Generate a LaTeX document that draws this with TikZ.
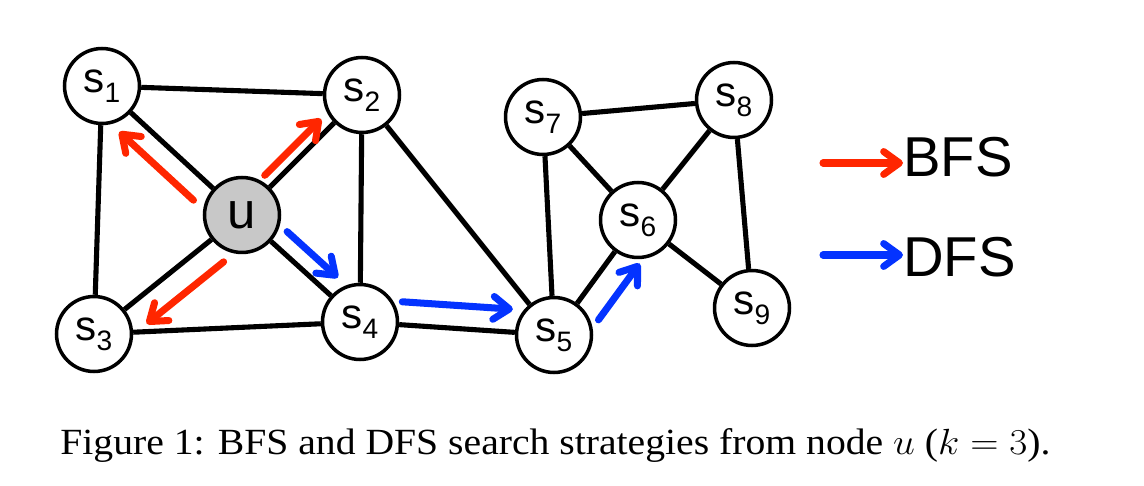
\documentclass[tikz,border=0pt]{standalone}
\usepackage{fontspec}
\setmainfont{Liberation Serif}
\newfontfamily\arialfont{Liberation Sans}
\usetikzlibrary{arrows.meta,calc}
\definecolor{bfsred}{RGB}{255,38,0}
\definecolor{dfsblue}{RGB}{4,51,255}
\definecolor{ugray}{RGB}{200,200,200}
\newcommand{\sidx}[1]{s\raisebox{-0.2cm}{\fontsize{16}{16}\selectfont#1}}
\begin{document}
\begin{tikzpicture}[x=0.02cm,y=-0.02cm,
  vertex/.style={circle,draw,line width=2pt,minimum size=1.5cm,inner sep=0pt,fill=white,font=\arialfont\fontsize{24}{24}\selectfont},
  edge/.style={line width=2.9pt},
  search/.style={line width=4pt,line cap=round,-{Straight Barb[length=9pt,width=13pt,line cap=round,line join=round]}},
  bfs/.style={search,bfsred},
  dfs/.style={search,dfsblue},
  legend/.style={inner sep=0pt,font=\arialfont\fontsize{32}{32}\selectfont}]
\useasboundingbox (0,0) rectangle (1144,486);
\node[vertex] (s1) at (102,86) {\sidx{1}};
\node[vertex] (s2) at (362,95) {\sidx{2}};
\node[vertex,fill=ugray,font=\arialfont\fontsize{29}{29}\selectfont] (u) at (242,215) {u};
\node[vertex] (s3) at (94,334) {\sidx{3}};
\node[vertex] (s4) at (360,322) {\sidx{4}};
\node[vertex] (s5) at (554,335) {\sidx{5}};
\node[vertex] (s6) at (638,220) {\sidx{6}};
\node[vertex] (s7) at (543,117) {\sidx{7}};
\node[vertex] (s8) at (734,100) {\sidx{8}};
\node[vertex] (s9) at (752,308) {\sidx{9}};
\draw[edge] (s1) -- (s2);
\draw[edge] (s1) -- (u);
\draw[edge] (s1) -- (s3);
\draw[edge] (u) -- (s2);
\draw[edge] (u) -- (s3);
\draw[edge] (u) -- (s4);
\draw[edge] (s2) -- (s4);
\draw[edge] (s2) -- (s5);
\draw[edge] (s3) -- (s4);
\draw[edge] (s4) -- (s5);
\draw[edge] (s5) -- (s7);
\draw[edge] (s5) -- (s6);
\draw[edge] (s7) -- (s6);
\draw[edge] (s7) -- (s8);
\draw[edge] (s8) -- (s6);
\draw[edge] (s8) -- (s9);
\draw[edge] (s6) -- (s9);
\draw[bfs] ($(u)!0.24!(s1)!0.44cm!90:(s1)$) -- ($(u)!0.77!(s1)!0.44cm!90:(s1)$);
\draw[bfs] ($(u)!0.26!(s2)!0.24cm!90:(s2)$) -- ($(u)!0.73!(s2)!0.24cm!90:(s2)$);
\draw[bfs] ($(u)!0.23!(s3)!0.5cm!90:(s3)$) -- ($(u)!0.75!(s3)!0.5cm!90:(s3)$);
\draw[dfs] ($(u)!0.28!(s4)!0.36cm!90:(s4)$) -- ($(u)!0.71!(s4)!0.36cm!90:(s4)$);
\draw[dfs] ($(s4)!0.21!(s5)!0.46cm!90:(s5)$) -- ($(s4)!0.78!(s5)!0.46cm!90:(s5)$);
\draw[dfs] ($(s5)!0.27!(s6)!0.54cm!-90:(s6)$) -- ($(s5)!0.76!(s6)!0.54cm!-90:(s6)$);
\node[legend,anchor=base west] (bfslbl) at (903,177) {BFS};
\node[legend,anchor=base west] (dfslbl) at (903,277) {DFS};
\coordinate (bfsfrom) at (823,163);
\coordinate (dfsfrom) at (823,255);
\draw[bfs] (bfsfrom) -- (bfsfrom -| bfslbl.west);
\draw[dfs] (dfsfrom) -- (dfsfrom -| dfslbl.west);
\node[anchor=base west,inner sep=0pt,font=\fontsize{21}{21}\selectfont] (caption) at (60,455) {\scalebox{1.075}[1]{Figure 1: BFS and DFS search strategies from node $u$ ($k=3$).}};
\end{tikzpicture}
\end{document}
